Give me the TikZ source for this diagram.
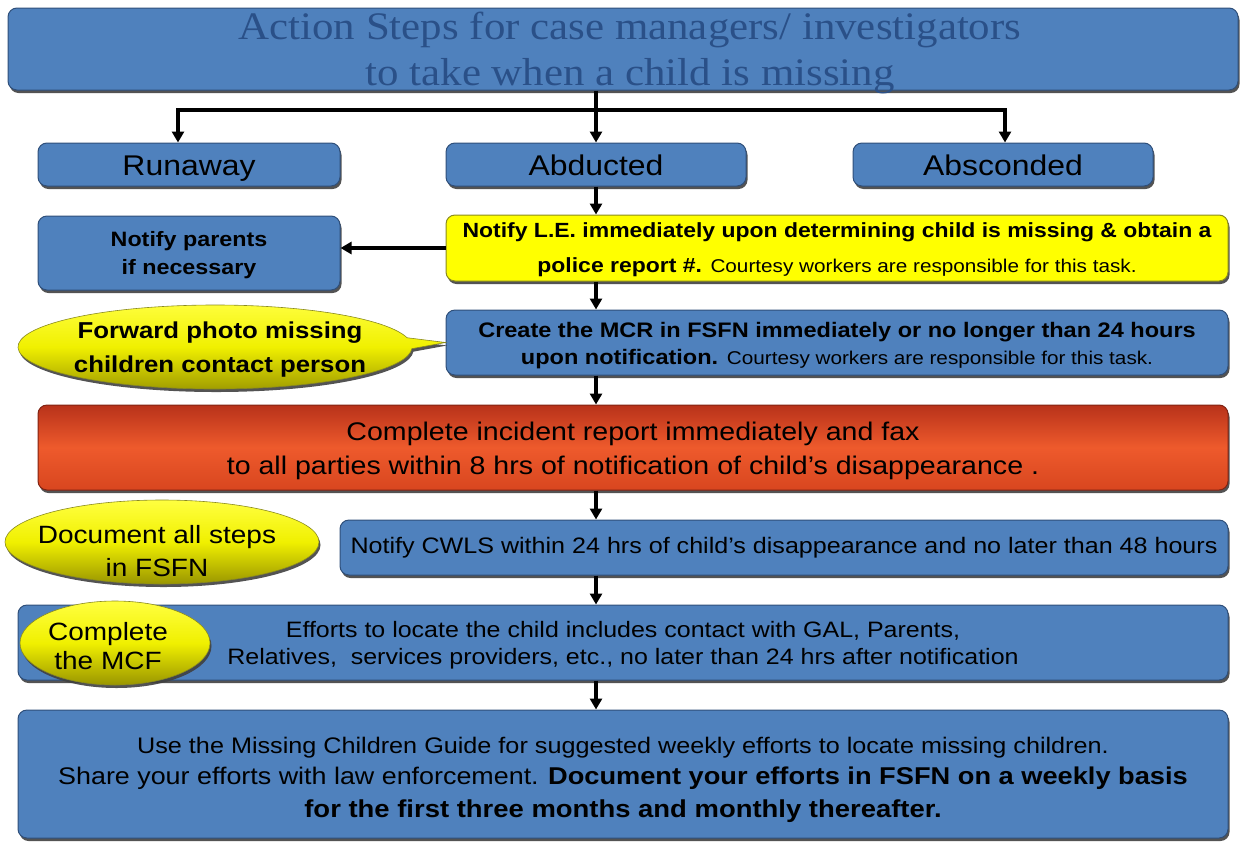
\documentclass[tikz,border=0pt]{standalone}
\usepackage{fontspec}
\setmainfont[FakeStretch=1.12]{Liberation Sans}
\newfontfamily\titlefont[FakeStretch=1.1]{Liberation Serif}
\usetikzlibrary{shapes.geometric,shapes.callouts,shadows,arrows.meta}
\definecolor{boxblue}{HTML}{4F81BD}
\definecolor{boxedge}{HTML}{2F4F7A}
\definecolor{titletext}{HTML}{2A5088}
\definecolor{ylw}{HTML}{FFFF00}
\definecolor{ylwedge}{HTML}{8A8A20}
\definecolor{redtop}{HTML}{B8321A}
\definecolor{redmid}{HTML}{EE5A2C}
\definecolor{redbot}{HTML}{D8461F}
\definecolor{ellTop}{HTML}{FFFF40}
\definecolor{ellMid}{HTML}{F0F000}
\definecolor{ellBot}{HTML}{9A9600}
\tikzset{
  shadowed/.style={drop shadow={shadow xshift=1.5pt,shadow yshift=-3pt,fill=black!75,opacity=0.9}},
  bbox/.style={rectangle,rounded corners=9pt,draw=boxedge,line width=1pt,fill=boxblue,shadowed,inner sep=2pt,align=center,text=black},
  catbox/.style={bbox,minimum width=300,minimum height=43,text height=22pt,text depth=1pt,font=\fontsize{28.5}{30}\selectfont},
  ybox/.style={bbox,fill=ylw,draw=ylwedge},
  rbox/.style={bbox,draw=redtop!70!black,top color=redtop,bottom color=redbot,middle color=redmid},
  ell/.style={ellipse,draw=ylwedge,line width=0.6pt,top color=ellTop,bottom color=ellBot,middle color=ellMid,shadowed,inner sep=0pt},
  elltext/.style={align=center,inner sep=0pt,text=black},
  line/.style={line width=4pt,black},
  arr/.style={line width=4pt,black,-{Triangle[length=11pt,width=12pt]}},
}
\begin{document}
\begin{tikzpicture}[x=1pt,y=-1pt]
\useasboundingbox (0,0) rectangle (1241,841);
% title
\node[bbox,minimum width=1230,minimum height=82] (title) at (623,49) {};
\node[text=titletext,align=center,inner sep=0pt,font=\titlefont\fontsize{39}{46}\selectfont] (titletxt) at (630,53)
  {Action Steps for case managers/ investigators\\to take when a child is missing};
% three categories
\node[catbox,minimum width=302] (run) at (189,164.5) {Runaway};
\node[catbox] (abd) at (596,164.5) {Abducted};
\node[catbox] (absc) at (1003,164.5) {Absconded};
\coordinate (jl) at (178,110);
\coordinate (jm) at (596,110);
\coordinate (jr) at (1005,110);
\draw[line] (jm |- title.south) -- (jm);
\draw[line] ([xshift=-2pt]jl) -- ([xshift=2pt]jr);
\draw[arr] (jl) -- (jl |- run.north);
\draw[arr] (jm) -- (abd.north);
\draw[arr] (jr) -- (jr |- absc.north);
% notify LE
\node[ybox,minimum width=782,minimum height=66,font=\bfseries\fontsize{20.5}{35}\selectfont] (le) at (837,248)
  {\rule{0pt}{19pt}Notify L.E. immediately upon determining child is missing \& obtain a\\police report \#. {\mdseries\fontsize{18.5}{20}\selectfont Courtesy workers are responsible for this task.}};
\node[bbox,minimum width=302,minimum height=74,font=\bfseries\fontsize{20.8}{28}\selectfont] (par) at (189,253)
  {\rule{0pt}{19pt}Notify parents\\if necessary};
\draw[arr] (le.west) -- (le.west -| par.east);
\draw[arr] (abd.south) -- (abd.south |- le.north);
% MCR
\node[bbox,minimum width=782,minimum height=65,font=\bfseries\fontsize{21}{27}\selectfont] (mcr) at (837,342.5)
  {\rule{0pt}{21pt}Create the MCR in FSFN immediately or no longer than 24 hours\\upon notification. {\mdseries\fontsize{18.5}{20}\selectfont Courtesy workers are responsible for this task.}};
\draw[arr] (abd.south |- le.south) -- (abd.south |- mcr.north);
\node[ell,ellipse callout,callout absolute pointer={(mcr.west)},minimum width=394,minimum height=84] (fwd) at (215,347) {};
\node[elltext,font=\bfseries\fontsize{23}{34}\selectfont] (fwdtxt) at (220,350)
  {Forward photo missing\\children contact person};
% incident report
\node[rbox,minimum width=1190,minimum height=85,font=\fontsize{25.5}{34}\selectfont] (inc) at (633,447.5)
  {\rule{0pt}{26pt}Complete incident report immediately and fax\\to all parties within 8 hrs of notification of child’s disappearance .};
\draw[arr] (abd.south |- mcr.south) -- (abd.south |- inc.north);
% CWLS
\node[bbox,minimum width=888,minimum height=55,font=\fontsize{22.4}{24}\selectfont] (cwls) at (784,547.5)
  {Notify CWLS within 24 hrs of child’s disappearance and no later than 48 hours};
\draw[arr] (abd.south |- inc.south) -- (abd.south |- cwls.north);
\node[ell,minimum width=314,minimum height=84] (doc) at (162,542) {};
\node[elltext,font=\fontsize{25}{33}\selectfont] (doctxt) at (157,551)
  {Document all steps\\in FSFN};
% efforts
\node[bbox,minimum width=1210,minimum height=75,font=\fontsize{22.3}{27}\selectfont] (eff) at (623,642.5)
  {\rule{0pt}{22pt}Efforts to locate the child includes contact with GAL, Parents,\\Relatives,\ \ services providers, etc., no later than 24 hrs after notification};
\draw[arr] (abd.south |- cwls.south) -- (abd.south |- eff.north);
\node[ell,minimum width=190,minimum height=84] (mcf) at (115,643) {};
\node[elltext,font=\fontsize{25}{29}\selectfont] (mcftxt) at (108,646)
  {Complete\\the MCF};
% final
\node[bbox,minimum width=1210,minimum height=128,font=\fontsize{22.5}{31}\selectfont] (fin) at (623,774)
  {\rule{0pt}{29pt}Use the Missing Children Guide for suggested weekly efforts to locate missing children.\\
   {\fontsize{24}{31}\selectfont Share your efforts with law enforcement.} {\bfseries\fontsize{24.3}{31}\selectfont Document your efforts in FSFN on a weekly basis}\\[2pt]
   {\bfseries\fontsize{24.5}{31}\selectfont for the first three months and monthly thereafter.}};
\draw[arr] (abd.south |- eff.south) -- (abd.south |- fin.north);
\end{tikzpicture}
\end{document}
